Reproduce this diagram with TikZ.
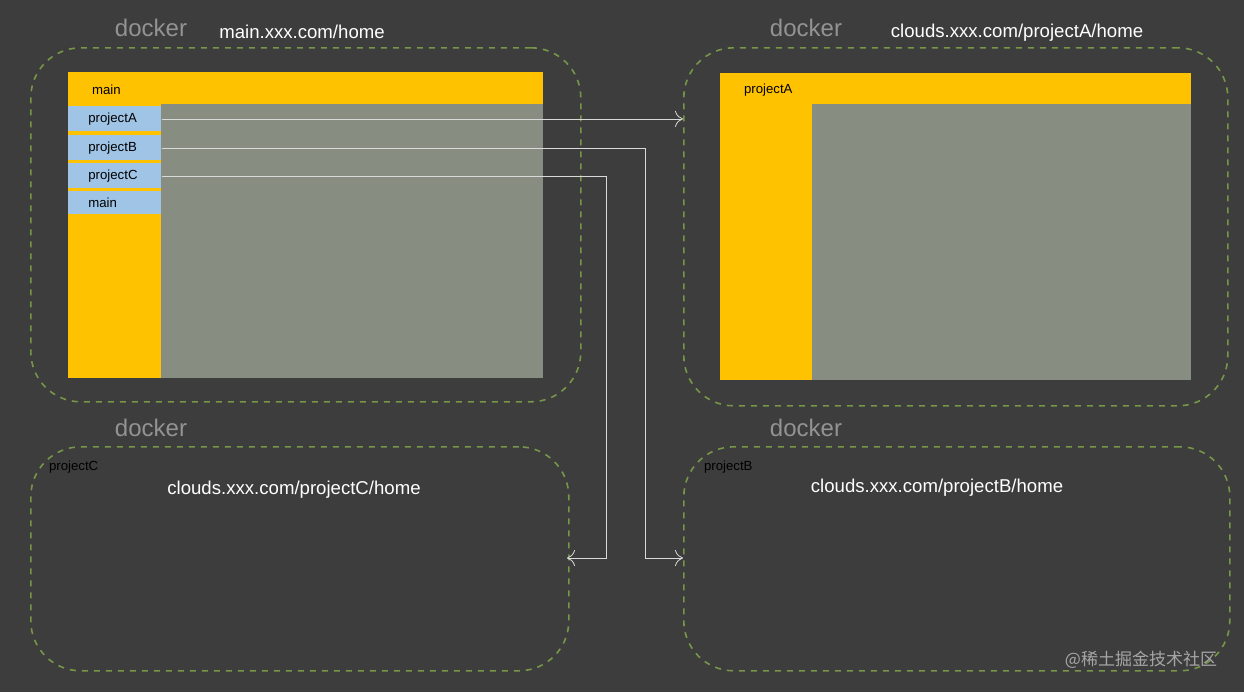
\documentclass[tikz,border=0pt]{standalone}
\usepackage{fontspec}
\setmainfont{Liberation Sans}
\newfontfamily\cjk{Noto Sans CJK SC}
\usepackage{tikz}
\usetikzlibrary{positioning, arrows.meta}
\definecolor{bg}{RGB}{61,61,61}
\definecolor{dock}{RGB}{118,150,72}
\definecolor{gold}{RGB}{255,194,0}
\definecolor{pane}{RGB}{136,141,129}
\definecolor{tab}{RGB}{160,196,230}
\tikzset{box/.style={draw=dock,dashed,thick,rounded corners=25pt,anchor=north west,inner sep=0pt},
  dockname/.style={text=gray!85,font=\fontsize{12}{12}\selectfont},
  url/.style={text=white,font=\fontsize{9.3}{10}\selectfont},
  small/.style={font=\fontsize{6.6}{7}\selectfont},
  item/.style={small,fill=tab,anchor=north west,inner ysep=0pt,inner xsep=10pt,minimum height=12.5pt,text width=26.5pt,align=left},
  link/.style={white!85!black,thin,-{To[length=4pt,width=8pt]}}}
\begin{document}
\begin{tikzpicture}[x=0.5pt,y=-0.5pt]
\useasboundingbox[fill=bg] (0,0) rectangle (1244,692);

%docker boxes
\node[box,minimum width=275pt,minimum height=177pt] (hostM) at (30,47) {};
\node[box,minimum width=272pt,minimum height=179pt] (hostA) at (683,47) {};
\node[box,minimum width=269pt,minimum height=112pt] (hostC) at (30,446) {};
\node[box,minimum width=273pt,minimum height=112pt] (hostB) at (683,446) {};

\node[dockname] (dM) at (151,28) {docker};
\node[dockname] (dA) at (806,28) {docker};
\node[dockname] (dC) at (151,428) {docker};
\node[dockname] (dB) at (806,428) {docker};

\node[url] (uM) at (302,32) {main.xxx.com/home};
\node[url] (uA) at (1017,33) {clouds.xxx.com/projectA/home};
\node[url] (uC) at (294,490) {clouds.xxx.com/projectC/home};
\node[url] (uB) at (937,488) {clouds.xxx.com/projectB/home};

%main window
\fill[gold] (68,72) rectangle (543,378);
\fill[pane] (161,104) rectangle (543,378);
\node[small,anchor=west] (mainTop) at (85,90) {main};
\node[item] (pA) at (68,106) {projectA};
\node[item] (pB) at (68,135) {projectB};
\node[item] (pC) at (68,163) {projectC};
\node[item,minimum height=11.5pt] (pM) at (68,191) {main};

%projectA window
\fill[gold] (720,73) rectangle (1191,380);
\fill[pane] (812,104) rectangle (1191,380);
\node[small,anchor=west] (aTop) at (737,90) {projectA};

\node[small,anchor=west] (cTop) at (42,467) {projectC};
\node[small,anchor=west] (bTop) at (697,467) {projectB};

%links
\coordinate (inB) at (683,558);
\coordinate (inC) at (567,558);
\draw[link] (pA.east) -- (pA.east -| hostA.west);
\draw[link] (pB.east) -| (645,558) -- (inB);
\draw[link] (pC.east) -| (606,558) -- (inC);

\node[text=gray!70,font=\cjk\fontsize{8.5}{9}\selectfont] (wm) at (1141,660) {@稀土掘金技术社区};
\end{tikzpicture}
\end{document}
